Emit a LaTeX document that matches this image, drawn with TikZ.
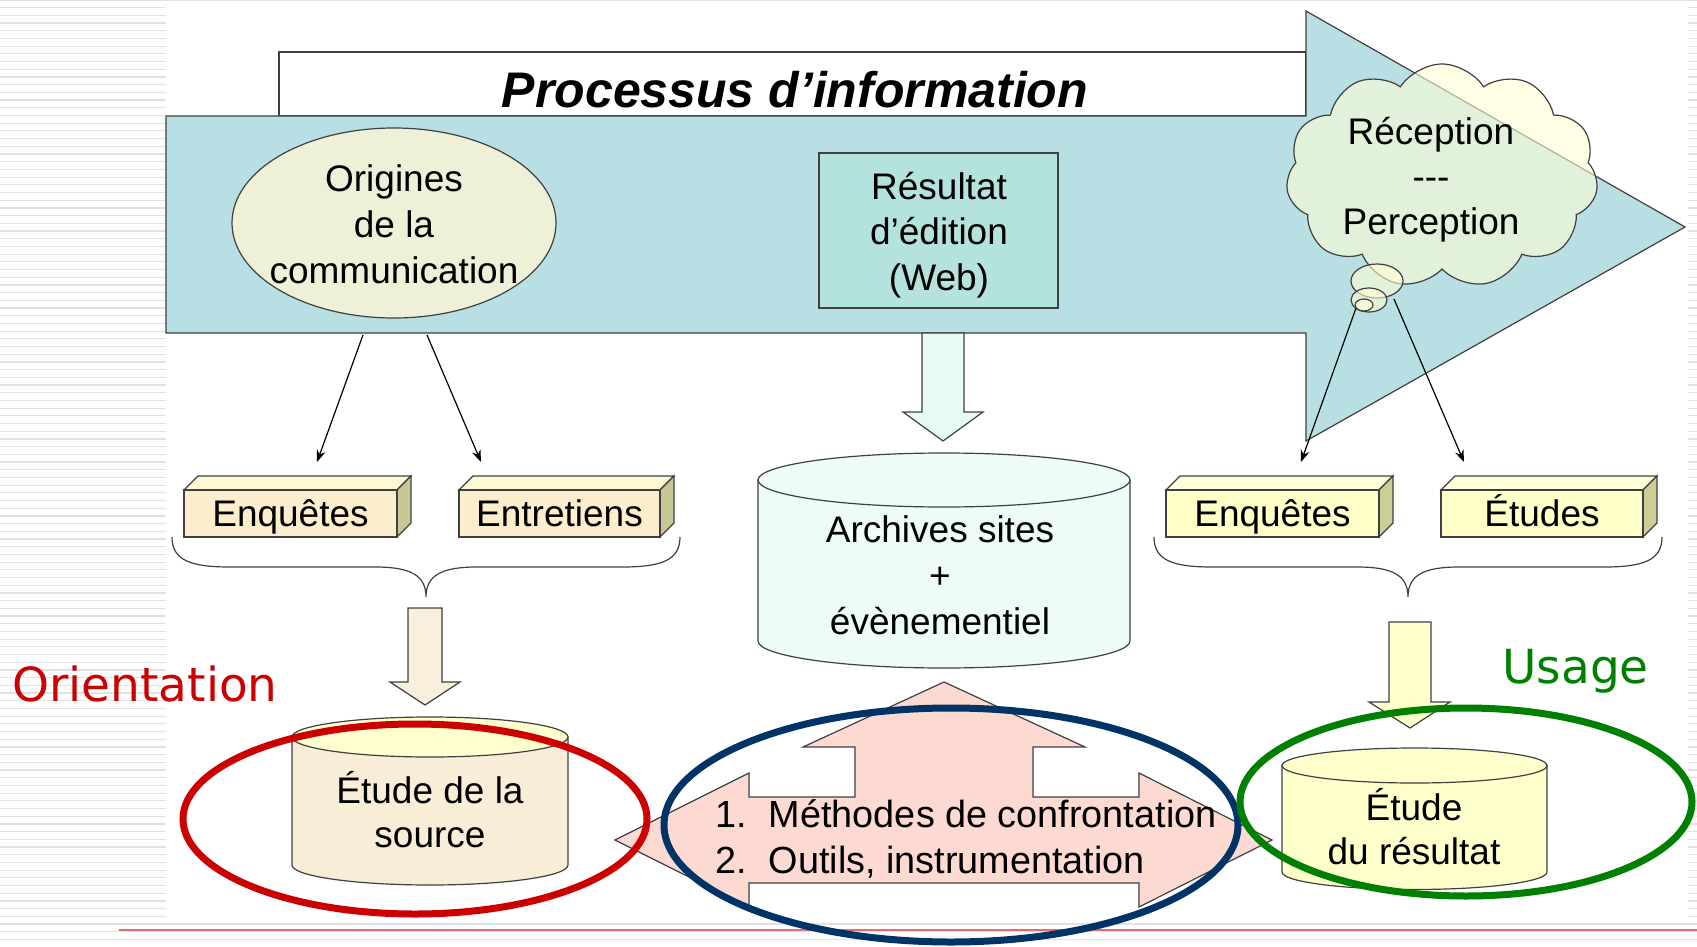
\documentclass[tikz,border=0pt]{standalone}
\usepackage{fontspec}
\setmainfont{Liberation Sans}
\newfontfamily\verd{DejaVu Sans}
\usetikzlibrary{shapes.symbols,shapes.geometric,arrows.meta}
\definecolor{outline}{RGB}{64,64,64}
\definecolor{bodyblue}{RGB}{184,223,227}
\definecolor{resfill}{RGB}{180,226,220}
\definecolor{origfill}{RGB}{238,240,216}
\definecolor{archfill}{RGB}{238,252,246}
\definecolor{cyanarrow}{RGB}{232,250,245}
\definecolor{beigefront}{RGB}{252,238,205}
\definecolor{beigetop}{RGB}{255,248,215}
\definecolor{beigeside}{RGB}{200,200,150}
\definecolor{yelfront}{RGB}{255,255,200}
\definecolor{yeltop}{RGB}{255,255,218}
\definecolor{yelside}{RGB}{205,205,150}
\definecolor{beigearrow}{RGB}{248,240,220}
\definecolor{yelarrow}{RGB}{255,255,204}
\definecolor{srcbody}{RGB}{248,238,215}
\definecolor{srctop}{RGB}{255,255,208}
\definecolor{pinkfill}{RGB}{252,218,210}
\definecolor{cloudfill}{RGB}{255,255,213}
\definecolor{ringred}{RGB}{204,0,0}
\definecolor{ringnavy}{RGB}{0,51,102}
\definecolor{ringgreen}{RGB}{0,128,0}
\definecolor{stripegray}{RGB}{226,226,226}
\definecolor{redrule}{RGB}{222,112,112}
\newcommand\tdbox[8]{%
  \filldraw[outl, fill=#6] (#1,490) -- (#1+14,476) -- (#2+14,476) -- (#2,490) -- cycle;
  \filldraw[outl, fill=#7] (#2,490) -- (#2+14,476) -- (#2+14,523) -- (#2,537) -- cycle;
  \filldraw[outl, fill=#5] (#1,490) rectangle (#2,537);
  \node[txt, anchor=base] (#3) at ({(#1+#2)/2},526) {#4};
}
\newcommand\cylshape[7]{%
  \filldraw[outl, fill=#6] ({#1-#2},#3) -- ({#1-#2},#4) arc[start angle=180, end angle=0, x radius=#2, y radius=#5] -- ({#1+#2},#3) -- cycle;
  \filldraw[outl, fill=#7] (#1,#3) ellipse [x radius=#2, y radius=#5];
}
\begin{document}
\begin{tikzpicture}[x=0.5pt,y=-0.5pt, line join=miter]
\tikzset{
  outl/.style={draw=outline, line width=0.6pt},
  txt/.style={font=\fontsize{18.5}{22}\selectfont, align=center, inner sep=0pt},
  conn/.style={draw=black, line width=0.6pt, -{Stealth[length=6pt,width=4.5pt]}},
  ring/.style={line width=3.5pt},
  stripe/.style={draw=stripegray, line width=0.6pt},
}
\useasboundingbox (0,0) rectangle (1697,947);
% background
\fill[white] (0,0) rectangle (1697,947);
\foreach \i in {0,...,123} { \draw[stripe] (0,{\i*7.7}) -- (1697,{\i*7.7}); }
\fill[white] (166,3) rectangle (1688,917);
\draw[redrule, line width=1pt] (119,930) -- (1697,930);

% title box and big arrow
\filldraw[outl, fill=white] (279,52) rectangle (1306,116);
\node[font=\fontsize{25}{30}\selectfont\bfseries\itshape, anchor=base, inner sep=0pt] (title) at (795,108) {Processus d’information};
\filldraw[outl, fill=bodyblue] (166,116) -- (1306,116) -- (1306,11) -- (1685,227) -- (1306,441) -- (1306,333) -- (166,333) -- cycle;

% Origines ellipse
\node[ellipse, outl, fill=origfill, minimum width=162pt, minimum height=95pt, inner sep=0pt] (origE) at (394,223) {};
\node[txt, font=\fontsize{18.5}{23}\selectfont] (origT) at (394,224) {Origines\\de la\\communication};

% Resultat box
\node[rectangle, outl, fill=resfill, minimum width=119.5pt, minimum height=77.5pt, inner sep=0pt] (resB) at (938.5,230.5) {};
\node[txt, font=\fontsize{18.5}{22.8}\selectfont] (resT) at (939,235) {Résultat\\d’édition\\(Web)};

% cloud
\node[cloud, cloud puffs=11, cloud puff arc=115, aspect=1.4, outl, fill=cloudfill, fill opacity=0.6, minimum width=156pt, minimum height=112pt, inner sep=0pt] (cloud) at (1442,176) {};
\filldraw[outl, fill=cloudfill, fill opacity=0.6] (1377,281) ellipse [x radius=26, y radius=17];
\filldraw[outl, fill=cloudfill, fill opacity=0.6] (1369,300) ellipse [x radius=18, y radius=12];
\filldraw[outl, fill=cloudfill, fill opacity=0.6] (1364,305) ellipse [x radius=9, y radius=6];
\node[txt, font=\fontsize{18.5}{22.5}\selectfont] (cloudT) at (1431,180) {Réception\\-{}-{}-\\Perception};

% connectors
\coordinate (oa) at (363,335);
\coordinate (ob) at (427,335);
\coordinate (oa2) at (317,462);
\coordinate (ob2) at (481,462);
\coordinate (ca) at (1356,308);
\coordinate (cb) at (1394,299);
\coordinate (ca2) at (1301,462);
\coordinate (cb2) at (1464,462);
\draw[conn] (oa) -- (oa2);
\draw[conn] (ob) -- (ob2);
\draw[conn] (ca) -- (ca2);
\draw[conn] (cb) -- (cb2);

% 3D boxes
\tdbox{184}{397}{enq1}{Enquêtes}{beigefront}{beigetop}{beigeside}{}
\tdbox{459}{660}{entr}{Entretiens}{beigefront}{beigetop}{beigeside}{}
\tdbox{1166}{1379}{enq2}{Enquêtes}{yelfront}{yeltop}{yelside}{}
\tdbox{1441}{1643}{etu}{Études}{yelfront}{yeltop}{yelside}{}

% braces
\draw[outl] (172,537) .. controls (172,560) and (190,567) .. (230,567) -- (375,567) .. controls (410,567) and (426,575) .. (426,597) .. controls (426,575) and (442,567) .. (477,567) -- (622,567) .. controls (662,567) and (680,560) .. (680,537);
\draw[outl] (1154,537) .. controls (1154,560) and (1172,567) .. (1212,567) -- (1357,567) .. controls (1392,567) and (1408,575) .. (1408,597) .. controls (1408,575) and (1424,567) .. (1459,567) -- (1604,567) .. controls (1644,567) and (1662,560) .. (1662,537);

% block arrows
\filldraw[outl, fill=cyanarrow] (922,333) -- (922,412) -- (903,412) -- (943,441) -- (983,412) -- (964,412) -- (964,333) -- cycle;
\filldraw[outl, fill=beigearrow] (408,608) -- (408,682) -- (390,682) -- (425,705) -- (460,682) -- (442,682) -- (442,608) -- cycle;
\filldraw[outl, fill=yelarrow] (1389,622) -- (1389,702) -- (1369,702) -- (1410,728) -- (1450,702) -- (1431,702) -- (1431,622) -- cycle;

% cylinders
\cylshape{944}{186}{480}{641}{27}{archfill}{archfill}
\node[txt, font=\fontsize{18.5}{23}\selectfont] (archT) at (940,575) {Archives sites\\+\\évènementiel};
\cylshape{430}{138}{737}{865}{20}{srcbody}{srctop}
\node[txt] (srcT) at (430,810) {Étude de la\\source};
\cylshape{1414.5}{132.5}{765.5}{872}{17.5}{yelarrow}{yelarrow}
\node[txt] (resultT) at (1414,827) {Étude\\du résultat};

% pink four-way arrow
\filldraw[outl, fill=pinkfill] (615,840) -- (749,773) -- (749,797) -- (855,797) -- (855,747) -- (803,747) -- (944,682) -- (1085,747) -- (1033,747) -- (1033,797) -- (1139,797) -- (1139,773) -- (1272,840) -- (1139,907) -- (1139,883) -- (749,883) -- (749,907) -- cycle;
\node[txt, anchor=west, font=\fontsize{18.9}{22}\selectfont] (methT) at (715,842) {\begin{tabular}{@{}l@{\hspace{11pt}}l@{}}1. & Méthodes de confrontation\\[1pt] 2. & Outils, instrumentation\end{tabular}};

% rings
\draw[ring, draw=ringred] (415,819) ellipse [x radius=232, y radius=95];
\draw[ring, draw=ringnavy] (951,825) ellipse [x radius=287, y radius=117];
\draw[ring, draw=ringgreen] (1466,802) ellipse [x radius=226, y radius=94];

% labels
\node[anchor=base west, inner sep=0pt, text=ringred, font=\verd\fontsize{23.5}{28}\selectfont] (orient) at (12,701) {Orientation};
\node[anchor=base west, inner sep=0pt, text=ringgreen, font=\verd\fontsize{23.5}{28}\selectfont] (usage) at (1502,683) {Usage};
\end{tikzpicture}
\end{document}
